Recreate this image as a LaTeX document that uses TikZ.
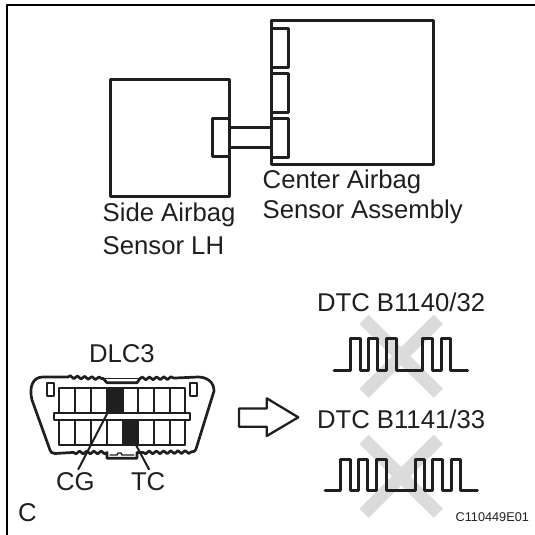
\documentclass[tikz,border=0pt]{standalone}
\usepackage{fontspec}
\setmainfont{Liberation Sans}
\usetikzlibrary{decorations.pathmorphing}
\definecolor{crossgray}{rgb}{0.86,0.86,0.86}
\definecolor{inkblack}{rgb}{0.12,0.12,0.12}
\tikzset{
  biglabel/.style={anchor=base west,inner sep=0pt,outer sep=0pt,text=inkblack,font=\fontsize{25.7}{30}\selectfont},
  codelabel/.style={anchor=base west,inner sep=0pt,outer sep=0pt,text=inkblack,font=\fontsize{12.7}{15}\selectfont},
  unit/.style={line width=3pt,color=inkblack},
  pulse/.style={line width=3pt,color=inkblack},
  pinline/.style={line width=2pt,color=inkblack},
  cross/.style={line width=13pt,color=crossgray,line cap=butt},
  wavy/.style={decoration={snake,segment length=7.2pt,amplitude=1.4pt}}
}
\begin{document}
\begin{tikzpicture}[line cap=round,line join=round,x=1pt,y=-1pt]
\useasboundingbox (0,0) rectangle (535,535);
\draw [line width=2.8pt,line cap=butt,color=black] (7,535)-- (7,5)-- (535,5);
% sensors
\draw [unit] (271,20.7) rectangle (433.3,164.3);
\draw [unit] (271,28.3) rectangle (288,67.7);
\draw [unit] (271,73.3) rectangle (288,112.3);
\draw [unit] (271,118.3) rectangle (288,157.3);
\draw [unit] (110.7,79) rectangle (229,196.7);
\draw [unit,fill=white] (212.7,118.3) rectangle (229.5,156.7);
\draw [unit] (229.5,127.3)-- (271,127.3);
\draw [unit] (229.5,147.3)-- (271,147.3);
\node [biglabel] (center1) at (262.7,188) {Center Airbag};
\node [biglabel] (center2) at (262.7,218) {Sensor Assembly};
\node [biglabel] (side1) at (102.7,221.7) {Side Airbag};
\node [biglabel] (side2) at (102.7,254) {Sensor LH};
% DLC3 connector
\draw [line width=2.7pt,color=inkblack] (43,377)-- (68,377) decorate [wavy] {-- (103,378.5)} -- (107,382.7)-- (137,382.7)-- (140,378.5) decorate [wavy] {-- (175,378)} -- (198,377) .. controls (207,377) and (214,382) .. (214,391)-- (196,449) .. controls (195.5,451) and (194,452) .. (191,452) decorate [wavy] {-- (141,452.5)} -- (137,452.5)-- (137,458.3)-- (107,458.3)-- (107,452.5) decorate [wavy] {-- (72,452.5)} -- (55,453.5) .. controls (52,453.5) and (50.5,452) .. (50,450)-- (32,400) .. controls (29,388) and (32,377) .. (43,377)-- cycle;
\draw [line width=1pt,color=inkblack] (103,378.5)-- (140,378.5);
\draw [line width=1.4pt,color=inkblack] (110,455)-- (117,455)-- (118,453)-- (121,453)-- (122,455)-- (134,455);
\draw [pinline] (59,388.3) rectangle (185,413);
\draw [pinline] (59,420) rectangle (185,445);
\draw [pinline] (74.7,388.3)-- (74.7,413) (90.7,388.3)-- (90.7,413) (106.7,388.3)-- (106.7,413) (122.7,388.3)-- (122.7,413) (138.3,388.3)-- (138.3,413) (154,388.3)-- (154,413) (169.5,388.3)-- (169.5,413);
\draw [pinline] (74.7,420)-- (74.7,445) (90.7,420)-- (90.7,445) (106.7,420)-- (106.7,445) (122.7,420)-- (122.7,445) (138.3,420)-- (138.3,445) (154,420)-- (154,445) (169.5,420)-- (169.5,445);
\fill [color=inkblack] (106.7,388.3) rectangle (122.7,413);
\fill [color=inkblack] (122,420) rectangle (138.3,445);
\draw [pinline,fill=white] (54,413) rectangle (190,420);
\draw [pinline] (47.3,383.3) rectangle (54.3,396);
\draw [pinline] (190,383.3) rectangle (197.3,396);
\node [biglabel] (dlc) at (89,362) {DLC3};
\node [biglabel] (cg) at (56,490.7) {CG};
\node [biglabel] (tc) at (131,490.7) {TC};
\coordinate (cgpin) at (107.3,413.3);
\coordinate (cgend) at (78.3,469.3);
\coordinate (tcpin) at (136,445);
\coordinate (tcend) at (149,469.3);
\draw [pinline] (cgpin)-- (cgend);
\draw [pinline] (tcpin)-- (tcend);
% arrow
\draw [line width=2.3pt,color=inkblack] (239,408.5)-- (266.7,408.5)-- (266.7,398.3)-- (298.3,417.3)-- (266.7,436)-- (266.7,426.7)-- (239,426.7)-- cycle;
% crosses
\draw [cross] (364,319.3)-- (438.3,393.3);
\draw [cross] (438.3,319.3)-- (364,393.3);
\draw [cross] (364,439.3)-- (438.3,513.3);
\draw [cross] (438.3,439.3)-- (364,513.3);
% waveforms
\draw [pulse] (334,370.7)-- (350,370.7)-- (350,338.3)-- (360,338.3)-- (360,370.7)-- (368.3,370.7)-- (368.3,338.3)-- (377.7,338.3)-- (377.7,370.7)-- (386,370.7)-- (386,338.3)-- (396,338.3)-- (396,370.7)-- (422.3,370.7)-- (422.3,338.3)-- (432.3,338.3)-- (432.3,370.7)-- (441,370.7)-- (441,338.3)-- (450.7,338.3)-- (450.7,370.7)-- (467.7,370.7);
\draw [pulse] (325,490.7)-- (340.7,490.7)-- (340.7,459)-- (350,459)-- (350,490.7)-- (358.3,490.7)-- (358.3,459)-- (367.7,459)-- (367.7,490.7)-- (376.7,490.7)-- (376.7,459)-- (386,459)-- (386,490.7)-- (415,490.7)-- (415,459)-- (424,459)-- (424,490.7)-- (432.7,490.7)-- (432.7,459)-- (442.3,459)-- (442.3,490.7)-- (451.7,490.7)-- (451.7,459)-- (460.7,459)-- (460.7,490.7)-- (477.3,490.7);
\node [biglabel] (dtc1) at (317,311) {DTC B1140/32};
\node [biglabel] (dtc2) at (317,428.3) {DTC B1141/33};
\node [biglabel] (cmark) at (18,521.7) {C};
\node [codelabel] (code) at (455.7,521.7) {C110449E01};
\end{tikzpicture}
\end{document}
